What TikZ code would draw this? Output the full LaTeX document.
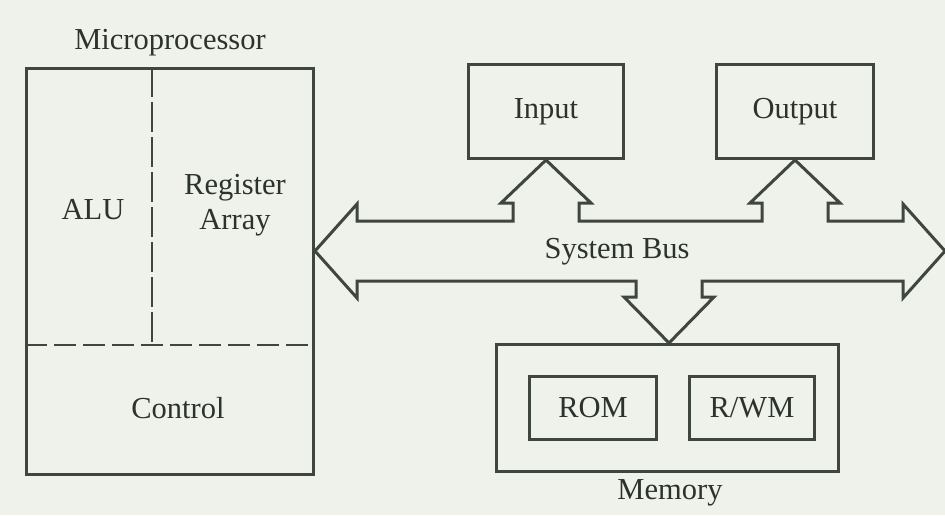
\documentclass[tikz,border=0pt]{standalone}
\usepackage{fontspec}
\setmainfont{Liberation Serif}
\definecolor{paper}{RGB}{239,241,235}
\definecolor{ink}{RGB}{62,70,62}
\definecolor{txt}{RGB}{44,50,44}
\begin{document}
\begin{tikzpicture}[x=1pt,y=-1pt,
  line join=miter,
  unit/.style={draw=ink, line width=3pt, rectangle, inner sep=0pt, anchor=north west},
  lbl/.style={text=txt, font=\fontsize{30.5}{32}\selectfont, inner sep=0pt},
  divider/.style={draw=ink, line width=2.2pt}]
  % page
  \fill[paper] (0,0) rectangle (945,515);
  \useasboundingbox (0,0) rectangle (945,515);

  % microprocessor block
  \node[unit, minimum width=287pt, minimum height=406pt] (mp) at (25,67) {};
  \node[lbl] (mptitle) at (170,43) {Microprocessor};
  \coordinate (vtop) at (152,67);
  \coordinate (vbot) at (152,345);
  \coordinate (hl) at (mp.west |- vbot);
  \coordinate (hr) at (mp.east |- vbot);
  \draw[divider, dash pattern=on 30pt off 5pt] (vtop) -- (vbot);
  \draw[divider, dash pattern=on 22pt off 7pt] (hl) -- (hr);
  \node[lbl] (alu) at (93,210) {ALU};
  \node[lbl, align=center] (reg) at (235,205) {Register\\[3pt]Array};
  \node[lbl] (ctrl) at (178,408) {Control};

  % input / output blocks
  \node[unit, minimum width=155pt, minimum height=94pt] (input) at (467,63) {};
  \node[lbl] at (input.center) {Input};
  \node[unit, minimum width=157pt, minimum height=94pt] (output) at (715,63) {};
  \node[lbl] at (output.center) {Output};

  % memory block
  \node[unit, minimum width=342pt, minimum height=127pt] (memory) at (495,343) {};
  \node[unit, minimum width=127pt, minimum height=63pt] (rom) at (528,375) {};
  \node[lbl] at (rom.center) {ROM};
  \node[unit, minimum width=125pt, minimum height=63pt] (rwm) at (688,375) {};
  \node[lbl] at (rwm.center) {R/WM};
  \node[lbl] (memlabel) at (670,493) {Memory};

  % system bus: one double-headed arrow with three branches
  \coordinate (ltip) at (mp.east |- 0,251);
  \coordinate (intip) at (input.south);
  \coordinate (outtip) at (output.south);
  \coordinate (memtip) at (memory.north -| 669,0);
  \draw[ink, line width=3pt, fill=paper]
    (ltip) -- (357,204) -- (357,221)
    -- (513,221) -- (513,203) -- (501,203) -- (intip) -- (591,203) -- (579,203) -- (579,221)
    -- (762,221) -- (762,203) -- (750,203) -- (outtip) -- (840,203) -- (828,203) -- (828,221)
    -- (903,221) -- (903,204) -- (945,251) -- (903,298) -- (903,281)
    -- (702,281) -- (702,297) -- (714,297) -- (memtip) -- (624,297) -- (636,297) -- (636,281)
    -- (357,281) -- (357,298) -- cycle;
  \node[lbl] (buslabel) at (617,252) {System Bus};
\end{tikzpicture}
\end{document}
